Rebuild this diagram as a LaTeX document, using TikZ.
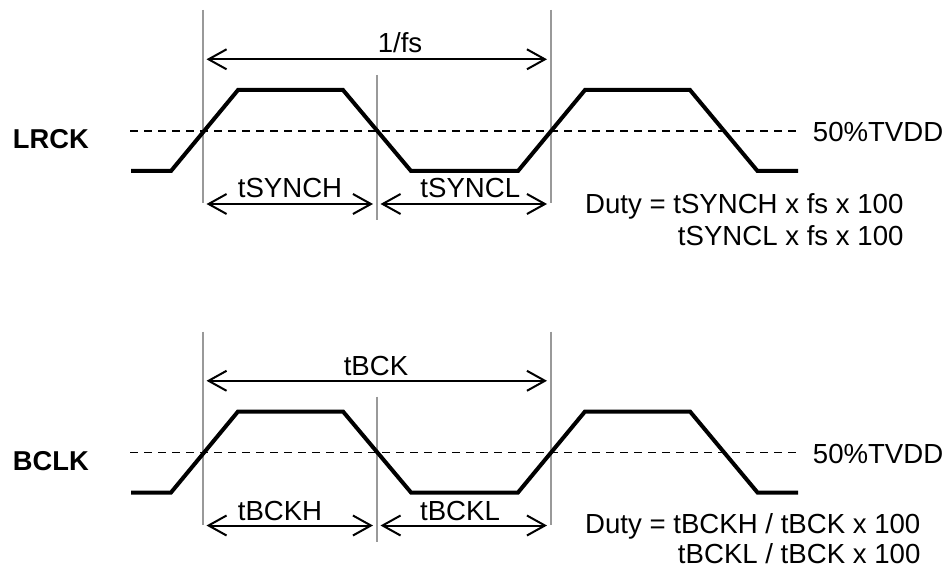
\documentclass[tikz,border=0pt]{standalone}
\usepackage{fontspec}
\setmainfont{Liberation Sans}
\usetikzlibrary{arrows.meta}
\begin{document}
\begin{tikzpicture}[x=1pt,y=-1pt,
  wave/.style={line width=4pt, line join=miter},
  refline/.style={line width=1.8pt, dash pattern=on 8pt off 6pt},
  guide/.style={draw=gray!80, line width=1.2pt},
  dim/.style={line width=2pt, {Straight Barb[length=18pt,width=20pt,line width=2pt]}-{Straight Barb[length=18pt,width=20pt,line width=2pt]}},
  txt/.style={inner sep=0pt, font=\fontsize{27.6}{31.5}\selectfont},
  sig/.style={inner sep=0pt, font=\fontsize{27.3}{31.5}\selectfont\bfseries}
]
\useasboundingbox (0,0) rectangle (951,575);
\foreach \dy/\pre in {0/t, 321.5/b}{
  % guide lines
  \coordinate (\pre g1a) at (203,10+\dy);   \coordinate (\pre g1b) at (203,203+\dy);
  \coordinate (\pre g2a) at (377,75+\dy);   \coordinate (\pre g2b) at (377,220+\dy);
  \coordinate (\pre g3a) at (551,10+\dy);   \coordinate (\pre g3b) at (551,203+\dy);
  \draw[guide] (\pre g1a) -- (\pre g1b);
  \draw[guide] (\pre g2a) -- (\pre g2b);
  \draw[guide] (\pre g3a) -- (\pre g3b);
  % reference level
  \coordinate (\pre ra) at (130,131+\dy); \coordinate (\pre rb) at (797,131+\dy);
  \draw[refline] (\pre ra) -- (\pre rb);
  % waveform
  \draw[wave] (131,171+\dy) -- (171,171+\dy) -- (238,90+\dy) -- (343,90+\dy) -- (411,171+\dy)
     -- (518,171+\dy) -- (585,90+\dy) -- (690,90+\dy) -- (757.5,171+\dy) -- (798,171+\dy);
  % dimension arrows
  \coordinate (\pre pa) at (206.5,59.3+\dy); \coordinate (\pre pb) at (547,59.3+\dy);
  \draw[dim] (\pre pa) -- (\pre pb);
  \coordinate (\pre ha) at (206.5,204+\dy); \coordinate (\pre hb) at (373,204+\dy);
  \draw[dim] (\pre ha) -- (\pre hb);
  \coordinate (\pre la) at (380.5,204+\dy); \coordinate (\pre lb) at (547,204+\dy);
  \draw[dim] (\pre la) -- (\pre lb);
  % level label
  \node[txt, anchor=base west] (\pre lvl) at (812.7,141.7+\dy) {50\%TVDD};
}
% top texts
\node[sig, anchor=base west] (lrck) at (12.7,148.3) {LRCK};
\node[txt, anchor=base] (fs) at (400,52.7) {1/fs};
\node[txt, anchor=base] (tsh) at (290,197.3) {tSYNCH};
\node[txt, anchor=base] (tsl) at (470.3,197.3) {tSYNCL};
\node[txt, anchor=base west] (d1) at (585,214) {Duty = tSYNCH x fs x 100};
\node[txt, anchor=base east] (d2) at (d1.base east) [yshift=-31pt] {tSYNCL x fs x 100};
% bottom texts
\node[sig, anchor=base west] (bclk) at (12.7,470) {BCLK};
\node[txt, anchor=base] (tb) at (376,375) {tBCK};
\node[txt, anchor=base] (tbh) at (280,520) {tBCKH};
\node[txt, anchor=base] (tbl) at (460,520) {tBCKL};
\node[txt, anchor=base west] (e1) at (585,533.3) {Duty = tBCKH / tBCK x 100};
\node[txt, anchor=base east] (e2) at (e1.base east) [yshift=-30pt] {tBCKL / tBCK x 100};
\end{tikzpicture}
\end{document}
